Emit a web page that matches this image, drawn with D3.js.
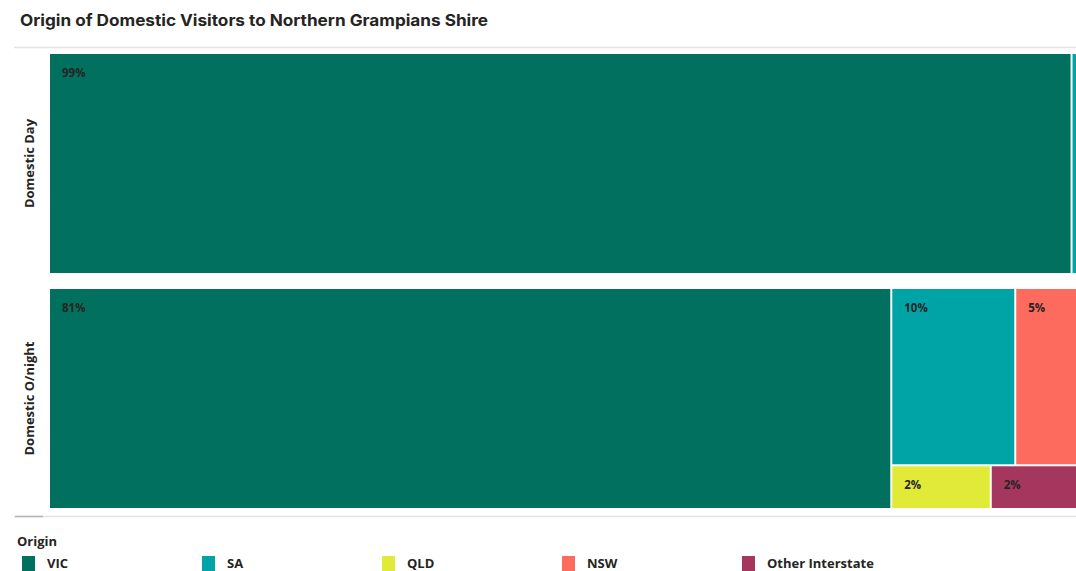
<!DOCTYPE html>
<html lang="en">
<head>
<meta charset="UTF-8">
<title>Origin of Domestic Visitors</title>
<style>
  body { margin: 0; background: #fff; }
  svg { display: block; }
</style>
</head>
<body>
<div id="chart"></div>
<script src="https://cdn.jsdelivr.net/npm/d3@7"></script>
<script>
    // data
    var categories = ["VIC", "SA", "QLD", "NSW", "Other Interstate"];
    var colors = ["#01705f", "#00a4a6", "#e2ea38", "#fd6b5e", "#a5375f"];
    var panels = ["Domestic Day", "Domestic O/night"];
    var dayValues = [98.7, 1.3, 0, 0, 0];
    var nightValues = [81.3, 9.6, 1.9, 5.4, 1.8];

    var width = 1076, height = 571;
    var plotLeft = 50, plotWidth = 1034;
    var panelTops = [54, 289], panelHeight = 219;

    var svg = d3.select("#chart").append("svg")
        .attr("width", width).attr("height", height);

    // title
    svg.append("text")
        .attr("x", 20).attr("y", 26)
        .attr("font-family", "Inter, sans-serif")
        .attr("font-weight", 700)
        .attr("font-size", 16)
        .attr("textLength", 468)
        .attr("lengthAdjust", "spacingAndGlyphs")
        .attr("fill", "#252423")
        .text("Origin of Domestic Visitors to Northern Grampians Shire");

    // separator lines
    svg.append("line").attr("x1", 14).attr("x2", width).attr("y1", 47.5).attr("y2", 47.5)
        .attr("stroke", "#e3e3e3").attr("stroke-width", 1.5);
    svg.append("line").attr("x1", 14).attr("x2", width).attr("y1", 516.5).attr("y2", 516.5)
        .attr("stroke", "#e3e3e3").attr("stroke-width", 1.5);
    svg.append("line").attr("x1", 15).attr("x2", 43).attr("y1", 516.5).attr("y2", 516.5)
        .attr("stroke", "#b5b5b5").attr("stroke-width", 1.5);

    var color = d3.scaleOrdinal().domain(categories).range(colors);

    // largest on the left, the rest in two rows (SA|NSW over QLD|Other)
    function buildTree(values) {
        function leaf(i) { return { name: categories[i], value: values[i] }; }
        return {
            children: [
                leaf(0),
                { children: [
                    { children: [leaf(1), leaf(3)] },
                    { children: [leaf(2), leaf(4)] }
                ] }
            ]
        };
    }

    var treemap = d3.treemap()
        .size([plotWidth, panelHeight])
        .tile(d3.treemapSliceDice)
        .paddingInner(2)
        .round(false);

    [dayValues, nightValues].forEach(function (values, p) {
        var root = d3.hierarchy(buildTree(values))
            .sum(function (d) { return d.value || 0; });
        treemap(root);

        var g = svg.append("g")
            .attr("transform", "translate(" + plotLeft + "," + panelTops[p] + ")");

        var cell = g.selectAll("g")
            .data(root.leaves().filter(function (d) { return d.value > 0; }))
            .enter().append("g");

        cell.append("rect")
            .attr("x", function (d) { return d.x0; })
            .attr("y", function (d) { return d.y0; })
            .attr("width", function (d) { return d.x1 - d.x0; })
            .attr("height", function (d) { return d.y1 - d.y0; })
            .attr("fill", function (d) { return color(d.data.name); });

        cell.filter(function (d) { return d.x1 - d.x0 > 30; })
            .append("text")
            .attr("x", function (d) { return d.x0 + 12; })
            .attr("y", function (d) { return d.y0 + 23; })
            .attr("font-family", "'Open Sans', sans-serif")
            .attr("font-weight", 700)
            .attr("font-size", 11.5)
            .attr("fill", "#252423")
            .text(function (d) { return Math.round(d.value) + "%"; });

        // row label
        svg.append("text")
            .attr("transform", "translate(34," + (panelTops[p] + panelHeight / 2) + ") rotate(-90)")
            .attr("text-anchor", "middle")
            .attr("font-family", "'Open Sans', sans-serif")
            .attr("font-weight", 700)
            .attr("font-size", 13)
            .attr("fill", "#252423")
            .text(panels[p]);
    });

    // legend
    svg.append("text")
        .attr("x", 17).attr("y", 546)
        .attr("font-family", "'Open Sans', sans-serif")
        .attr("font-weight", 700)
        .attr("font-size", 13)
        .attr("fill", "#252423")
        .text("Origin");

    var legend = svg.selectAll(".legend")
        .data(categories)
        .enter().append("g")
        .attr("class", "legend")
        .attr("transform", function (d, i) { return "translate(" + (22 + i * 180) + ",556)"; });

    legend.append("rect")
        .attr("width", 13).attr("height", 15)
        .attr("fill", function (d) { return color(d); });

    legend.append("text")
        .attr("x", 25).attr("y", 11.5)
        .attr("font-family", "'Open Sans', sans-serif")
        .attr("font-weight", 700)
        .attr("font-size", 13)
        .attr("fill", "#252423")
        .text(function (d) { return d; });
</script>
</body>
</html>
